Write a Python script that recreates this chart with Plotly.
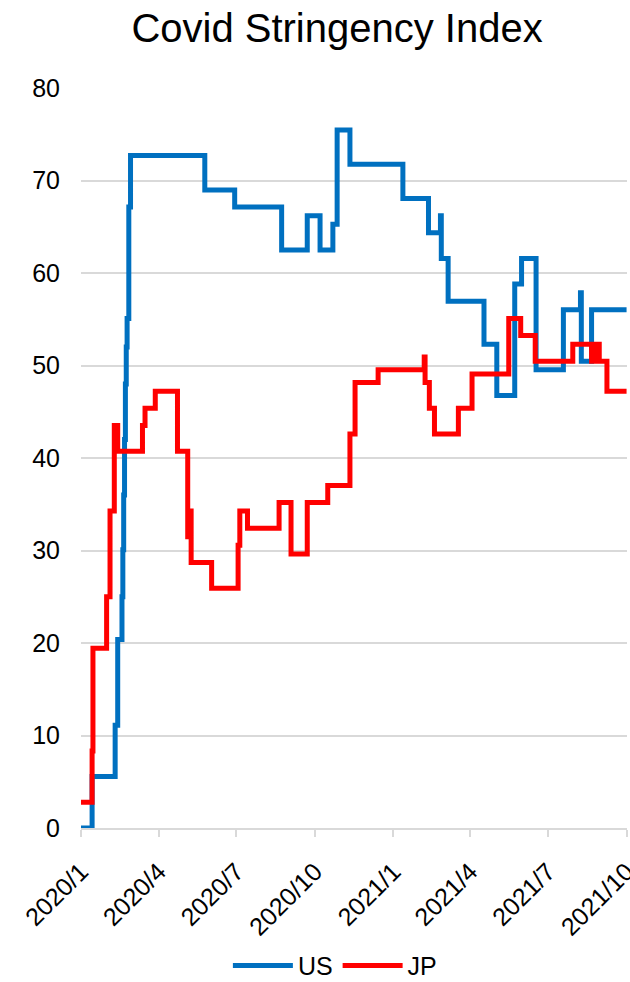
import datetime as dt
import plotly.graph_objects as go

START = dt.date(2020, 1, 1)

# Stringency index, stored as (day offset from 2020-01-01, new value) change points
us_days = [0, 13, 40, 43, 48, 49, 50, 51, 52, 53, 54, 55, 56, 58, 145, 180, 235,
           265, 280, 295, 300, 315, 377, 407, 421, 422, 430, 472, 487, 508, 516,
           533, 565, 585, 586, 598, 639]
us_vals = [0, 5.56, 11.11, 20.37, 25.0, 30.09, 36.0, 42.0, 48.0, 52.0, 55.09,
           55.09, 67.13, 72.69, 68.98, 67.13, 62.5, 66.2, 62.5, 65.28, 75.46,
           71.76, 68.06, 64.35, 66.2, 61.57, 56.94, 52.31, 46.76, 58.8, 61.57,
           49.54, 56.02, 57.87, 50.46, 56.02, 56.02]

jp_days = [0, 13, 14, 30, 34, 39, 41, 42, 43, 72, 75, 87, 113, 125, 127, 129,
           153, 184, 186, 195, 232, 246, 265, 289, 315, 321, 348, 402, 403, 408,
           414, 442, 458, 501, 515, 532, 576, 598, 601, 603, 604, 607, 616, 639]
jp_vals = [2.78, 8.33, 19.44, 25.0, 34.26, 43.52, 41.67, 43.52, 40.74, 43.52,
           45.37, 47.22, 40.74, 31.48, 34.26, 28.7, 25.93, 30.56, 34.26, 32.41,
           35.19, 29.63, 35.19, 37.04, 42.59, 48.15, 49.54, 50.93, 48.15, 45.37,
           42.59, 45.37, 49.07, 55.09, 53.24, 50.46, 52.31, 50.46, 52.31, 50.46,
           52.31, 50.46, 47.22, 47.22]

y_ticks = [0, 10, 20, 30, 40, 50, 60, 70, 80]


def to_dates(days):
    return [START + dt.timedelta(days=d) for d in days]


fig = go.Figure()
fig.add_trace(go.Scatter(
    x=to_dates(us_days), y=us_vals, name="US", mode="lines",
    line=dict(color="#0070C0", width=5, shape="hv"),
))
fig.add_trace(go.Scatter(
    x=to_dates(jp_days), y=jp_vals, name="JP", mode="lines",
    line=dict(color="#FF0000", width=5, shape="hv"),
))

font_family = "Liberation Sans, Arial, sans-serif"

fig.update_layout(
    width=630, height=982,
    margin=dict(l=81, r=3, t=88, b=154, autoexpand=False),
    paper_bgcolor="white", plot_bgcolor="white",
    font=dict(family=font_family, size=25, color="#000000"),
    title=dict(text="Covid Stringency Index", x=0.535, xanchor="center",
               y=0.9715, yanchor="middle",
               font=dict(family=font_family, size=40, color="#000000")),
    showlegend=True,
    legend=dict(orientation="h", x=0.465, xanchor="center", y=-0.186,
                yanchor="middle", font=dict(size=25), itemwidth=60,
                traceorder="normal"),
    xaxis=dict(
        type="date", automargin=False,
        range=[dt.datetime(2020, 1, 1), dt.datetime(2021, 10, 1, 12)],
        tick0="2020-01-01", dtick="M3", tickformat="%Y/%-m",
        tickangle=-45, showgrid=False,
        showline=True, linecolor="#D9D9D9", linewidth=2,
        ticks="outside", ticklen=7, tickcolor="#D9D9D9", tickwidth=2,
        ticklabelstandoff=10, ticklabeloverflow="allow",
        tickfont=dict(size=25),
    ),
    yaxis=dict(
        range=[0, 80], tickvals=y_ticks, showgrid=True, automargin=False,
        gridcolor="#D9D9D9", gridwidth=2, zeroline=False,
        showline=False, ticks="", ticklabelstandoff=20,
        tickfont=dict(size=25),
    ),
)

fig.write_html("out.html")
